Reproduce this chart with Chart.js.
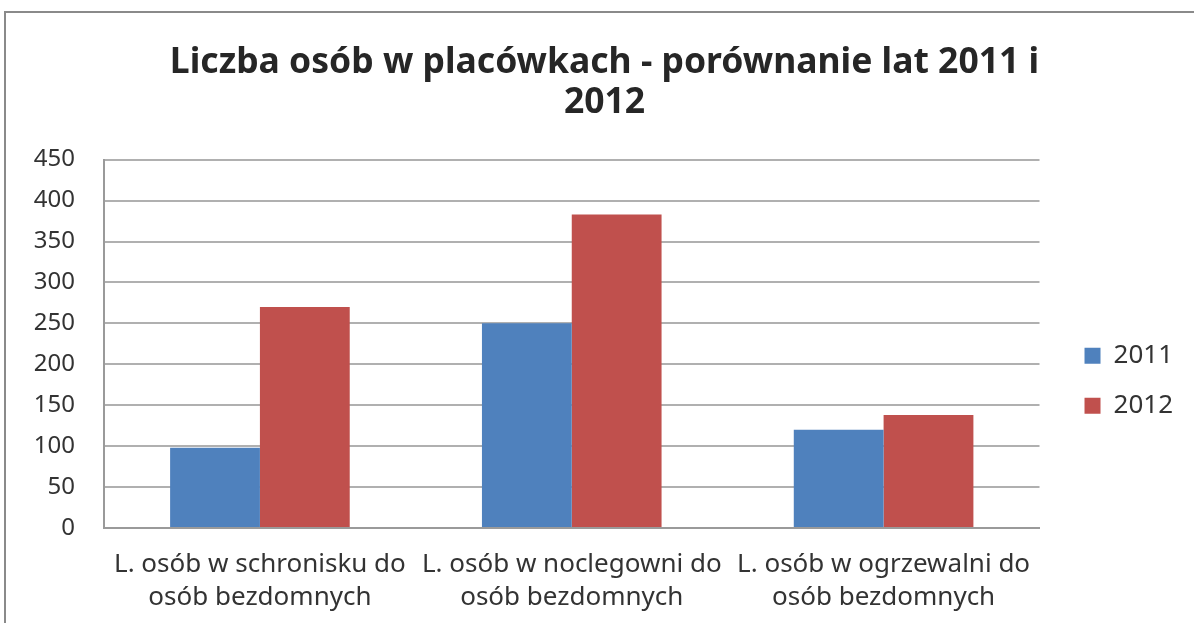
<!DOCTYPE html>
<html>
<head>
<meta charset="utf-8">
<script src="https://cdn.jsdelivr.net/npm/chart.js@4/dist/chart.umd.min.js"></script>
<style>
  html, body { margin: 0; padding: 0; background: #fff; }
  #wrap { position: relative; width: 1194px; height: 623px; overflow: hidden; }
  #frame { position: absolute; left: 4px; top: 11px; width: 1300px; height: 700px;
           border-top: 2px solid #8a8a8a; border-left: 2px solid #8a8a8a; }
  canvas { position: absolute; left: 0; top: 0; }
</style>
</head>
<body>
<div id="wrap">
  <div id="frame"></div>
  <canvas id="barChart" width="1194" height="623"></canvas>
</div>
<script>
// chart data
var categories = [
    ['L. osób w schronisku do', 'osób bezdomnych'],
    ['L. osób w noclegowni do', 'osób bezdomnych'],
    ['L. osób w ogrzewalni do', 'osób bezdomnych']
];
var values_2011 = [98, 250, 120];
var values_2012 = [270, 383, 138];
var series_labels = ['2011', '2012'];
var title_lines = ['Liczba osób w placówkach - porównanie lat 2011 i', '2012'];

var FONT = "'Noto Sans', 'Open Sans', sans-serif";

// move the legend down, it sits lower than the plot middle
var legendOffset = {
    id: 'legendOffset',
    afterLayout: function (chart) {
        var lg = chart.legend;
        var h = lg.bottom - lg.top;
        lg.top = chart.chartArea.top + 159;
        lg.bottom = lg.top + h;
    }
};

var ctx = document.getElementById('barChart').getContext('2d');
var myChart = new Chart(ctx, {
    type: 'bar',
    data: {
        labels: categories,
        datasets: [{
            label: series_labels[0],
            data: values_2011,
            backgroundColor: '#4F81BD',
            borderWidth: 0
        },
        {
            label: series_labels[1],
            data: values_2012,
            backgroundColor: '#C0504D',
            borderWidth: 0
        }]
    },
    plugins: [legendOffset],
    options: {
        responsive: false,
        animation: false,
        layout: {
            padding: { top: 12, left: 26, right: 11, bottom: 0 }
        },
        datasets: {
            bar: { categoryPercentage: 0.576, barPercentage: 1.0 }
        },
        plugins: {
            title: {
                display: true,
                text: title_lines,
                color: '#262626',
                font: { family: FONT, size: 35.5, weight: 'bold', lineHeight: 1.15 },
                padding: { top: 30, bottom: 36 }
            },
            legend: {
                display: true,
                position: 'right',
                align: 'start',
                labels: {
                    boxWidth: 16,
                    boxHeight: 16,
                    padding: 24,
                    color: '#333',
                    font: { family: FONT, size: 26 }
                }
            },
            tooltip: { enabled: false }
        },
        scales: {
            x: {
                grid: { display: false, drawTicks: false },
                border: { display: true, color: '#9a9a9a', width: 2 },
                ticks: {
                    color: '#333',
                    padding: 20,
                    maxRotation: 0,
                    autoSkip: false,
                    font: { family: FONT, size: 26, lineHeight: 1.27 }
                },
                afterFit: function (scale) { scale.height = 95; }
            },
            y: {
                min: 0,
                max: 450,
                grid: { color: '#b0b0b0', lineWidth: 2, drawTicks: false },
                border: { display: true, color: '#9a9a9a', width: 2 },
                ticks: {
                    stepSize: 50,
                    color: '#333',
                    padding: 29,
                    font: { family: FONT, size: 24 }
                },
                afterFit: function (scale) { scale.width = 78; }
            },
            // empty right axis, only to leave a gap before the legend
            gap: {
                type: 'linear',
                position: 'right',
                display: true,
                grid: { display: false, drawTicks: false },
                border: { display: false },
                ticks: { display: false },
                afterFit: function (scale) { scale.width = 21; }
            }
        }
    }
});
</script>
</body>
</html>
